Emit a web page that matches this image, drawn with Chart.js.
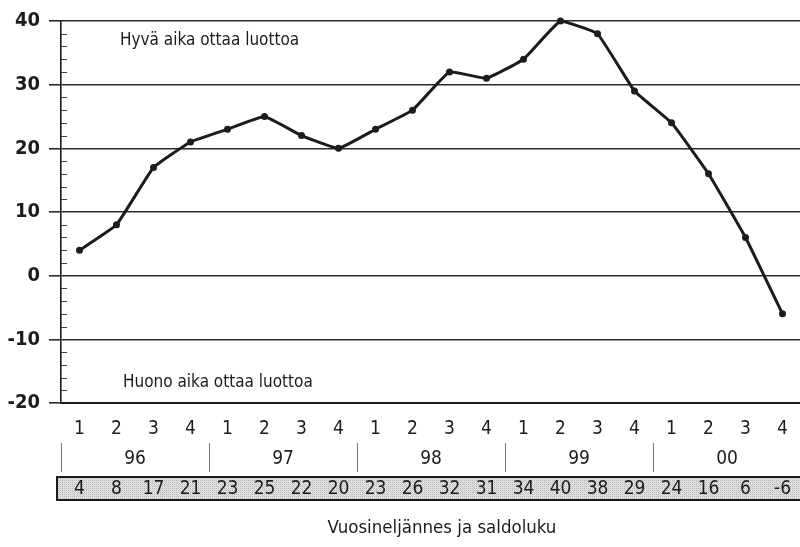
<!DOCTYPE html>
<html>
<head>
<meta charset="utf-8">
<script src="https://cdn.jsdelivr.net/npm/chart.js@4.4.1/dist/chart.umd.min.js"></script>
<style>
  html, body { margin: 0; padding: 0; background: #fff; overflow: hidden; }
  #wrap { position: relative; width: 805px; height: 547px; }
</style>
</head>
<body>
<div id="wrap"><canvas id="c"></canvas></div>
<script>
// Quarter numbers along the x axis
const quarters = ['1','2','3','4','1','2','3','4','1','2','3','4','1','2','3','4','1','2','3','4'];
// Year of each group of four quarters
const years = ['96', '97', '98', '99', '00'];
// Balance figure (saldoluku) for each quarter
const saldo = [4, 8, 17, 21, 23, 25, 22, 20, 23, 26, 32, 31, 34, 40, 38, 29, 24, 16, 6, -6];
// Y axis tick values
const yTicks = [-20, -10, 0, 10, 20, 30, 40];

const FONT = "'Liberation Sans Narrow', 'DejaVu Sans Condensed', 'Arial Narrow', sans-serif";
const INK = '#1c1c1c';

function stipple() {
  const p = document.createElement('canvas');
  p.width = 2; p.height = 2;
  const g = p.getContext('2d');
  g.fillStyle = '#e6e6e6'; g.fillRect(0, 0, 2, 2);
  g.fillStyle = '#b4b4b4'; g.fillRect(0, 0, 1, 1);
  g.fillStyle = '#d2d2d2'; g.fillRect(1, 1, 1, 1);
  return p;
}

const extras = {
  id: 'extras',
  afterDraw(chart) {
    const { ctx, chartArea: a, scales: { x, y } } = chart;
    ctx.save();

    // minor ticks every 2 units inside the y axis
    ctx.strokeStyle = '#444';
    ctx.lineWidth = 1;
    for (let v = -20; v <= 40; v += 2) {
      if (v % 10 === 0) continue;
      const py = Math.round(y.getPixelForValue(v)) + 0.5;
      ctx.beginPath(); ctx.moveTo(a.left, py); ctx.lineTo(a.left + 6, py); ctx.stroke();
    }

    // region captions
    ctx.fillStyle = INK;
    ctx.font = `17px ${FONT}`;
    ctx.textAlign = 'left';
    ctx.textBaseline = 'middle';
    ctx.fillText('Hyvä aika ottaa luottoa', 120, 41);
    ctx.fillText('Huono aika ottaa luottoa', 123, 383);

    const step = x.getPixelForValue(1) - x.getPixelForValue(0);

    // year separators and year labels
    ctx.strokeStyle = '#777';
    ctx.lineWidth = 1;
    ctx.font = `19px ${FONT}`;
    ctx.textAlign = 'center';
    years.forEach((yr, i) => {
      const first = x.getPixelForValue(i * 4);
      const last = x.getPixelForValue(i * 4 + 3);
      const sx = Math.round(first - step / 2) + 0.5;
      ctx.beginPath(); ctx.moveTo(sx, 443); ctx.lineTo(sx, 472); ctx.stroke();
      ctx.fillText(yr, (first + last) / 2, 459);
    });

    // shaded balance row
    const boxL = a.left - 4, boxT = 477, boxB = 500;
    ctx.fillStyle = ctx.createPattern(stipple(), 'repeat');
    ctx.fillRect(boxL, boxT, chart.width - boxL + 5, boxB - boxT);
    ctx.strokeStyle = INK;
    ctx.lineWidth = 2;
    ctx.strokeRect(boxL, boxT, chart.width - boxL + 5, boxB - boxT);
    ctx.fillStyle = INK;
    ctx.font = `19px ${FONT}`;
    saldo.forEach((v, i) => {
      ctx.fillText(String(v), x.getPixelForValue(i), 489);
    });

    // axis caption
    ctx.font = `18.5px ${FONT}`;
    ctx.fillText('Vuosineljännes ja saldoluku', 442, 528);
    ctx.restore();
  }
};

new Chart(document.getElementById('c'), {
  type: 'line',
  data: {
    labels: quarters,
    datasets: [{
      data: saldo,
      borderColor: INK,
      backgroundColor: INK,
      borderWidth: 3,
      tension: 0.1,
      pointRadius: 3.5,
      pointBackgroundColor: INK,
      pointBorderColor: INK,
      pointBorderWidth: 0,
      clip: false
    }]
  },
  options: {
    responsive: true,
    maintainAspectRatio: false,
    animation: false,
    events: [],
    layout: { padding: { top: 19, right: 0, left: 0, bottom: 0 } },
    plugins: { legend: { display: false }, tooltip: { enabled: false } },
    scales: {
      x: {
        offset: true,
        grid: { display: false, drawTicks: false },
        border: { display: true, color: INK, width: 2 },
        ticks: {
          color: INK,
          font: { family: FONT, size: 19 },
          padding: 15,
          maxRotation: 0,
          autoSkip: false
        },
        afterFit(s) { s.height = 144; }
      },
      y: {
        min: -20,
        max: 40,
        afterBuildTicks(s) { s.ticks = yTicks.map(v => ({ value: v })); },
        grid: {
          color: '#2a2a2a',
          lineWidth: 1.6,
          tickLength: 12,
          drawTicks: true
        },
        border: { display: true, color: INK, width: 1.6 },
        ticks: {
          color: INK,
          font: { family: FONT, size: 20, weight: 'bold' },
          padding: 9
        },
        afterFit(s) { s.width = 61; }
      }
    }
  },
  plugins: [extras]
});
</script>
</body>
</html>
